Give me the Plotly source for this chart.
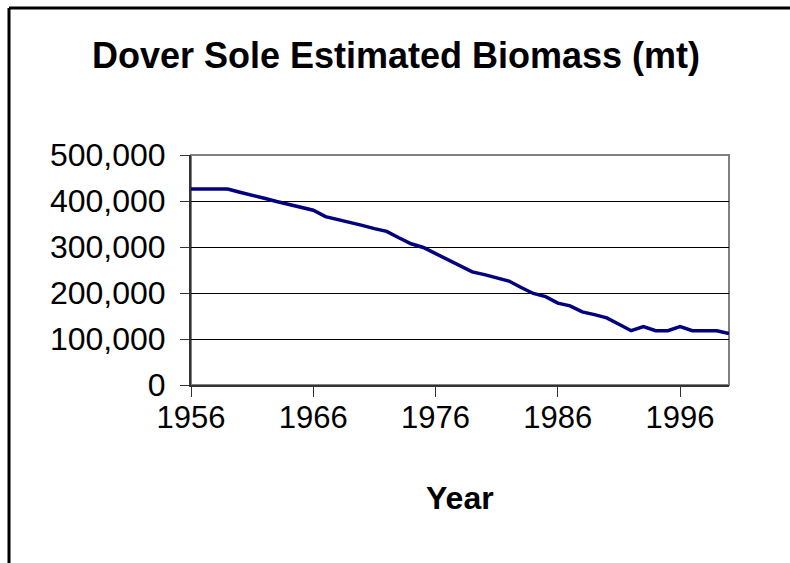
import plotly.graph_objects as go

# Dover sole estimated biomass (metric tons), one value per year
years = list(range(1956, 2001))
biomass = [
    426000, 426000, 426000, 426000, 419000, 413000, 406000, 399000, 393000, 386000,  # 1956-1965
    380000, 366000, 360000, 353000, 347000, 340000, 334000, 320000, 307000, 299000,  # 1966-1975
    286000, 273000, 261000, 246000, 240000, 233000, 226000, 212000, 199000, 192000,  # 1976-1985
    178000, 172000, 159000, 153000, 146000, 132000, 118000, 127000, 118000, 118000,  # 1986-1995
    127000, 118000, 118000, 118000, 112000,                                          # 1996-2000
]
x_ticks = [1956, 1966, 1976, 1986, 1996]
y_ticks = [0, 100000, 200000, 300000, 400000, 500000]

W, H = 790, 563
# plot area in pixels
PL, PR, PT, PB = 191, 729, 155, 385

FONT = "Arial, Liberation Sans, sans-serif"


def px_x(x):
    return (x - PL) / (PR - PL)


def px_y(y):
    return (PB - y) / (PB - PT)


fig = go.Figure()
fig.add_trace(go.Scatter(
    x=years, y=biomass, mode="lines",
    line=dict(color="#000080", width=3.5),
    hoverinfo="x+y", showlegend=False,
))

shapes = [
    # plot area frame
    dict(type="rect", xref="paper", yref="paper", x0=0, x1=1, y0=0, y1=1,
         line=dict(color="#808080", width=2), layer="below"),
    # chart area frame (top and left edges)
    dict(type="line", xref="paper", yref="paper",
         x0=px_x(9), x1=px_x(W + 5), y0=px_y(8), y1=px_y(8),
         line=dict(color="black", width=3)),
    dict(type="line", xref="paper", yref="paper",
         x0=px_x(9), x1=px_x(9), y0=px_y(8), y1=px_y(H + 5),
         line=dict(color="black", width=3)),
]

fig.update_layout(
    width=W, height=H,
    margin=dict(l=PL, r=W - PR, t=PT, b=H - PB, pad=0),
    paper_bgcolor="white", plot_bgcolor="white",
    font=dict(family=FONT, color="black"),
    title=dict(text="<b>Dover Sole Estimated Biomass (mt)</b>",
               xref="container", yref="container",
               x=396 / W, y=1 - 55 / H, xanchor="center", yanchor="middle",
               font=dict(size=36, family=FONT, color="black")),
    shapes=shapes,
    annotations=[
        dict(text="<b>Year</b>", xref="paper", yref="paper",
             x=0.5, y=px_y(498), xanchor="center", yanchor="middle",
             showarrow=False, font=dict(size=32, family=FONT, color="black")),
    ],
    xaxis=dict(
        range=[1956, 2000], tickvals=x_ticks, ticktext=[str(v) for v in x_ticks],
        ticks="outside", ticklen=10, tickwidth=1, tickcolor="#333",
        ticklabelstandoff=-6,
        showline=True, linecolor="#333", linewidth=2,
        showgrid=False, zeroline=False,
        tickfont=dict(size=31, family=FONT),
    ),
    yaxis=dict(
        range=[0, 500000], tickvals=y_ticks, tickformat=",d",
        ticks="outside", ticklen=9, tickwidth=1, tickcolor="#333",
        ticklabelstandoff=8,
        showline=True, linecolor="#333", linewidth=2,
        showgrid=True, gridcolor="black", gridwidth=1,
        zeroline=False,
        tickfont=dict(size=32, family=FONT),
    ),
)

fig.write_html("out.html")
